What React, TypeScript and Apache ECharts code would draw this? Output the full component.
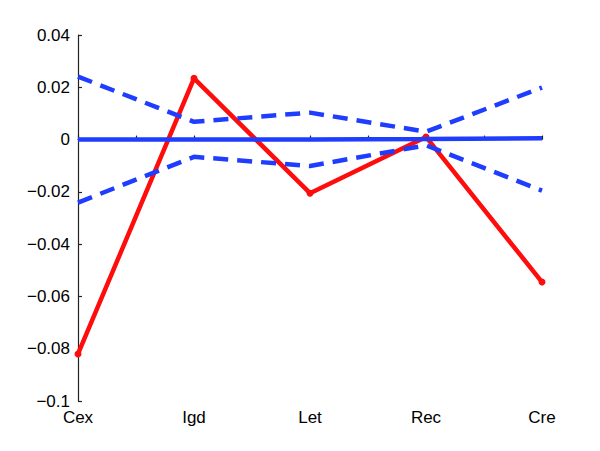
import React, { useEffect, useRef } from "react";
import * as echarts from "echarts";

const categories = ["Cex", "Igd", "Let", "Rec", "Cre"];
const redValues = [-0.082, 0.0234, -0.0205, 0.001, -0.0545];
const meanValues = [0.0, 0.0, 0.0, 0.0002, 0.0005];
const upperValues = [0.0241, 0.0068, 0.0103, 0.003, 0.0199];
const lowerValues = [-0.0241, -0.0066, -0.0101, -0.0022, -0.0195];
const yTicks = { min: -0.1, max: 0.04, interval: 0.02 };

const toPts = (vals: number[]) => vals.map((v, i) => [i + 1, v]);

export default function App() {
  const ref = useRef<HTMLDivElement>(null);
  useEffect(() => {
    if (!ref.current) return;
    const chart = echarts.init(ref.current, null, { renderer: "svg" });
    const blue = "#1f3dff";
    const red = "#ff0d0d";
    const font = "'Liberation Sans', Arial, Helvetica, sans-serif";
    chart.setOption({
      animation: false,
      grid: { left: 78, right: 58, top: 35, bottom: 50, containLabel: false },
      xAxis: {
        type: "value",
        min: 1,
        max: 5,
        interval: 0.5,
        axisLine: { show: true, lineStyle: { color: "#222", width: 1.2 } },
        axisTick: { show: true, inside: true, length: 4, lineStyle: { color: "#222", width: 1.2 } },
        splitLine: { show: false },
        axisLabel: {
          color: "#000",
          fontFamily: font,
          fontSize: 17,
          margin: 8,
          showMinLabel: true,
          showMaxLabel: true,
          formatter: (v: number) => {
            const i = Math.round(v);
            return Math.abs(v - i) < 1e-6 ? categories[i - 1] ?? "" : "";
          },
        },
      },
      yAxis: {
        type: "value",
        min: yTicks.min,
        max: yTicks.max,
        interval: yTicks.interval,
        axisLine: { show: true, lineStyle: { color: "#222", width: 1.2 } },
        axisTick: { show: true, inside: true, length: 4, lineStyle: { color: "#222", width: 1.2 } },
        splitLine: { show: false },
        axisLabel: {
          color: "#000",
          fontFamily: font,
          fontSize: 17,
          margin: 8,
          formatter: (v: number) => {
            const r = Math.round(v * 100) / 100;
            if (r === 0) return "0";
            return String(r).replace("-", "\u2212");
          },
        },
      },
      series: [
        {
          type: "line",
          data: toPts(redValues),
          symbol: "circle",
          symbolSize: 7,
          itemStyle: { color: red },
          lineStyle: { color: red, width: 4.5 },
          z: 2,
        },
        {
          type: "line",
          data: toPts(meanValues),
          symbol: "none",
          lineStyle: { color: blue, width: 4.5 },
          z: 3,
        },
        {
          type: "line",
          data: toPts(upperValues),
          symbol: "none",
          lineStyle: { color: blue, width: 4.5, type: [15, 9] },
          z: 3,
        },
        {
          type: "line",
          data: toPts(lowerValues),
          symbol: "none",
          lineStyle: { color: blue, width: 4.5, type: [15, 9] },
          z: 3,
        },
      ],
    });
    return () => chart.dispose();
  }, []);
  return (
    <div
      ref={ref}
      style={{ position: "absolute", left: 0, top: 0, width: 600, height: 451 }}
    />
  );
}
